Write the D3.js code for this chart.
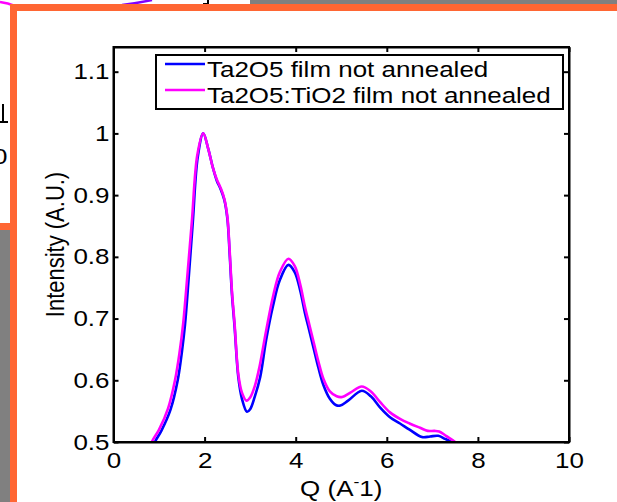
<!DOCTYPE html>
<html>
<head>
<meta charset="utf-8">
<script src="https://cdn.jsdelivr.net/npm/d3@7"></script>
<style>
  html, body { margin: 0; padding: 0; background: #fff; overflow: hidden; }
  svg { display: block; }
  text { font-family: "Liberation Sans", Arial, Helvetica, sans-serif; fill: #000; }
</style>
</head>
<body>
<svg id="chart"></svg>
<script>
// Q (A^-1) and normalised intensity
const qTa2O5 = [0.75, 0.91, 1.05, 1.25, 1.41, 1.5, 1.57, 1.65, 1.74, 1.85, 1.97, 2.08, 2.18, 2.27, 2.35, 2.43, 2.5, 2.55, 2.6, 2.66, 2.74, 2.82, 2.93, 3.0, 3.1, 3.22, 3.35, 3.5, 3.65, 3.84, 3.98, 4.1, 4.2, 4.3, 4.4, 4.5, 4.61, 4.75, 4.88, 4.98, 5.15, 5.45, 5.65, 5.85, 6.07, 6.29, 6.5, 6.77, 6.95, 7.13, 7.28, 7.42, 7.6];
const iTa2O5 = [0.47, 0.5, 0.518, 0.552, 0.6, 0.645, 0.69, 0.765, 0.855, 0.962, 1.0, 0.975, 0.945, 0.923, 0.91, 0.893, 0.862, 0.805, 0.74, 0.685, 0.605, 0.57, 0.549, 0.553, 0.573, 0.605, 0.665, 0.72, 0.762, 0.787, 0.775, 0.745, 0.71, 0.68, 0.65, 0.62, 0.592, 0.57, 0.56, 0.559, 0.567, 0.583, 0.574, 0.556, 0.54, 0.53, 0.52, 0.508, 0.509, 0.51, 0.505, 0.5, 0.485];

const qTiO2 = [0.7, 0.84, 1.0, 1.2, 1.35, 1.45, 1.53, 1.62, 1.72, 1.84, 1.97, 2.08, 2.18, 2.27, 2.35, 2.43, 2.5, 2.55, 2.6, 2.66, 2.74, 2.82, 2.92, 3.0, 3.1, 3.2, 3.35, 3.5, 3.65, 3.84, 3.98, 4.1, 4.2, 4.3, 4.4, 4.5, 4.61, 4.75, 4.9, 5.02, 5.2, 5.45, 5.65, 5.85, 6.07, 6.3, 6.5, 6.73, 6.9, 7.05, 7.15, 7.3, 7.5, 7.7];
const iTiO2 = [0.47, 0.5, 0.52, 0.555, 0.6, 0.645, 0.692, 0.768, 0.857, 0.965, 1.0, 0.975, 0.945, 0.925, 0.912, 0.895, 0.865, 0.81, 0.745, 0.69, 0.61, 0.58, 0.567, 0.572, 0.59, 0.62, 0.68, 0.735, 0.775, 0.797, 0.785, 0.755, 0.72, 0.69, 0.66, 0.63, 0.602, 0.582, 0.574, 0.573, 0.58, 0.59, 0.582, 0.565, 0.548, 0.537, 0.53, 0.523, 0.518, 0.518, 0.517, 0.51, 0.5, 0.485];

const seriesNames = ['Ta2O5 film not annealed', 'Ta2O5:TiO2 film not annealed'];
const seriesColors = ['#0000ff', '#ff00ff'];
const xTicks = [0, 2, 4, 6, 8, 10];
const yTicks = [0.5, 0.6, 0.7, 0.8, 0.9, 1, 1.1];

class DiffractionChart {

  constructor(_config) {
    this.config = {
      parentElement: _config.parentElement,
      containerWidth: _config.containerWidth || 617,
      containerHeight: _config.containerHeight || 502,
      plot: _config.plot || {left: 113.5, right: 569, top: 47, bottom: 442},
      stretch: _config.stretch || 1.18,
      fontSize: _config.fontSize || 22
    };
    this.initVis();
  }

  initVis() {
    let vis = this;
    const p = vis.config.plot;

    vis.svg = d3.select(vis.config.parentElement)
      .attr('width', vis.config.containerWidth)
      .attr('height', vis.config.containerHeight);

    vis.drawBackdrop();

    vis.xScale = d3.scaleLinear().domain([0, 10]).range([p.left, p.right]);
    vis.yScale = d3.scaleLinear().domain([0.5, 1.14]).range([p.bottom, p.top]);

    vis.svg.append('clipPath').attr('id', 'plot-clip')
      .append('rect')
      .attr('x', p.left).attr('y', p.top)
      .attr('width', p.right - p.left).attr('height', p.bottom - p.top);

    vis.series = [
      {name: seriesNames[0], color: seriesColors[0], values: qTa2O5.map((q, i) => [q, iTa2O5[i]])},
      {name: seriesNames[1], color: seriesColors[1], values: qTiO2.map((q, i) => [q, iTiO2[i]])}
    ];

    vis.renderVis();
  }

  // pieces of the neighbouring figures around this one
  drawBackdrop() {
    let vis = this;
    const g = vis.svg.append('g');
    g.append('rect').attr('x', 0).attr('y', 0).attr('width', 617).attr('height', 502).attr('fill', '#fff');
    g.append('rect').attr('x', 250).attr('y', 0).attr('width', 367).attr('height', 5).attr('fill', '#808080');
    g.append('rect').attr('x', 0).attr('y', 229).attr('width', 10).attr('height', 273).attr('fill', '#808080');
    g.append('path').attr('d', 'M0,2 Q8,3 15,6').attr('fill', 'none').attr('stroke', '#ff00ff').attr('stroke-width', 2.5);
    g.append('path').attr('d', 'M122,5 Q138,3 152,0').attr('fill', 'none').attr('stroke', '#8000ff').attr('stroke-width', 2.5);
    g.append('path').attr('d', 'M203,4 L208,4 L208,0').attr('fill', 'none').attr('stroke', '#000').attr('stroke-width', 2);
    g.append('path').attr('d', 'M0,122 L8,122 M3,104 L3,122').attr('fill', 'none').attr('stroke', '#000').attr('stroke-width', 2);
    g.append('g').attr('transform', 'translate(-7,164) scale(1.18,1)')
      .append('text').attr('font-size', vis.config.fontSize).text('0');
    g.append('rect').attr('x', 0).attr('y', 223).attr('width', 12).attr('height', 7).attr('fill', '#ff6633');
    g.append('rect').attr('x', 10).attr('y', 4).attr('width', 607).attr('height', 7).attr('fill', '#ff6633');
    g.append('rect').attr('x', 10).attr('y', 4).attr('width', 7).attr('height', 498).attr('fill', '#ff6633');
  }

  renderVis() {
    let vis = this;
    const p = vis.config.plot;
    const sx = vis.config.stretch;
    const fs = vis.config.fontSize;
    const tick = 5;

    const line = d3.line()
      .x(d => vis.xScale(d[0]))
      .y(d => vis.yScale(d[1]))
      .curve(d3.curveCatmullRom.alpha(0.5));

    vis.svg.append('g')
      .attr('clip-path', 'url(#plot-clip)')
      .selectAll('.curve')
      .data(vis.series)
      .join('path')
      .attr('class', 'curve')
      .attr('d', d => line(d.values))
      .attr('fill', 'none')
      .attr('stroke', d => d.color)
      .attr('stroke-width', 2.6)
      .attr('stroke-linejoin', 'round');

    // axes: ticks point inward on all four sides, like matlab
    const xAxis = d3.axisBottom(vis.xScale).tickValues(xTicks).tickSizeInner(-tick).tickSizeOuter(0).tickPadding(10.5);
    const yAxis = d3.axisLeft(vis.yScale).tickValues(yTicks).tickSizeInner(-tick).tickSizeOuter(0).tickFormat(d3.format('~g'));

    const xAxisG = vis.svg.append('g')
      .attr('transform', `translate(0,${p.bottom})`)
      .call(xAxis);
    xAxisG.selectAll('text')
      .attr('font-size', fs)
      .attr('font-family', null)
      .attr('transform', `scale(${sx},1)`);

    const yAxisG = vis.svg.append('g')
      .attr('transform', `translate(${p.left},0)`)
      .call(yAxis);
    yAxisG.selectAll('text')
      .attr('font-size', fs)
      .attr('font-family', null)
      .attr('x', -4 / sx)
      .attr('transform', `scale(${sx},1)`);

    vis.svg.append('g')
      .attr('transform', `translate(0,${p.top})`)
      .call(d3.axisTop(vis.xScale).tickValues(xTicks).tickSizeInner(-tick).tickSizeOuter(0).tickFormat(''));
    vis.svg.append('g')
      .attr('transform', `translate(${p.right},0)`)
      .call(d3.axisRight(vis.yScale).tickValues(yTicks).tickSizeInner(-tick).tickSizeOuter(0).tickFormat(''));

    vis.svg.selectAll('.domain, .tick line')
      .attr('stroke', '#000')
      .attr('stroke-width', 2);

    vis.svg.append('rect')
      .attr('x', p.left).attr('y', p.top)
      .attr('width', p.right - p.left).attr('height', p.bottom - p.top)
      .attr('fill', 'none').attr('stroke', '#000').attr('stroke-width', 2);

    // axis titles
    const xl = vis.svg.append('g')
      .attr('transform', `translate(${(p.left + p.right) / 2},496) scale(${sx},1)`)
      .append('text')
      .attr('text-anchor', 'middle')
      .attr('font-size', fs);
    xl.append('tspan').text('Q (A');
    xl.append('tspan').attr('dy', -9).attr('font-size', 15).text('-');
    xl.append('tspan').attr('dy', 9).text('1)');

    vis.svg.append('g')
      .attr('transform', `translate(64,${(p.top + p.bottom) / 2}) scale(${sx},1) rotate(-90)`)
      .append('text')
      .attr('text-anchor', 'middle')
      .attr('font-size', fs)
      .text('Intensity (A.U.)');

    // legend
    const legend = vis.svg.append('g');
    legend.append('rect')
      .attr('x', 156).attr('y', 55).attr('width', 407).attr('height', 54)
      .attr('fill', '#fff').attr('stroke', '#000').attr('stroke-width', 2);

    const items = legend.selectAll('.legend-item')
      .data(vis.series)
      .join('g')
      .attr('class', 'legend-item')
      .attr('transform', (d, i) => `translate(0,${i * 26})`);
    items.append('line')
      .attr('x1', 165).attr('x2', 205)
      .attr('y1', 64).attr('y2', 64)
      .attr('stroke', d => d.color)
      .attr('stroke-width', 2.6);
    items.append('g')
      .attr('transform', `translate(207,77) scale(${sx},1)`)
      .append('text')
      .attr('font-size', fs)
      .text(d => d.name);
  }
}

new DiffractionChart({parentElement: '#chart'});
</script>
</body>
</html>
